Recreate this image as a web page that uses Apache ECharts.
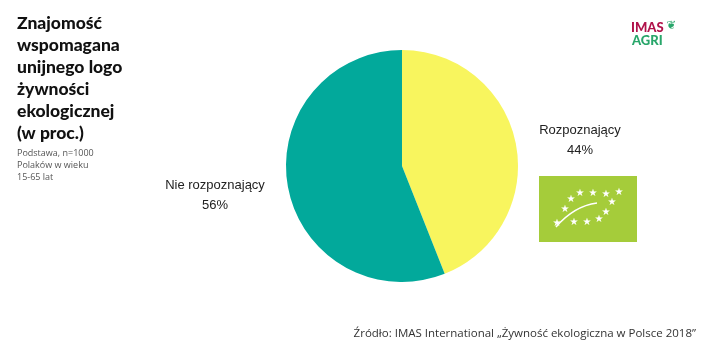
<!DOCTYPE html>
<html><head><meta charset="utf-8">
<script src="https://cdn.jsdelivr.net/npm/echarts@6/dist/echarts.min.js"></script>
<style>html,body{margin:0;padding:0;background:#fff}#c{width:702px;height:353px}</style>
</head><body><div id="c"></div>
<script>
const categories = ['Rozpoznający', 'Nie rozpoznający'];
const values = [44, 56];
const colors = ['#F8F55E', '#02A99B'];
const titleLines = ['Znajomość', 'wspomagana', 'unijnego logo', 'żywności', 'ekologicznej', '(w proc.)'];
const subLines = ['Podstawa, n=1000', 'Polaków w wieku', '15-65 lat'];
const sourceText = 'Źródło: IMAS International „Żywność ekologiczna w Polsce 2018”';
const labelPos = [[580, 140], [215, 195]];

const chart = echarts.init(document.getElementById('c'));
const stars = [];
const starPts = [[580,193],[593,193],[606,194],[619,192],[571,199],[612,202],[565,209],[606,212],[557,223],[574,222],[587,222],[599,219]];
starPts.forEach(p => stars.push({type:'text', x:p[0], y:p[1], style:{text:'★', fill:'#fff', font:'10px DejaVu Sans', align:'center', verticalAlign:'middle'}}));
chart.setOption({
  animation: false,
  graphic: [
    {type:'text', left:17, top:12, style:{text: titleLines.join('\n'), font:'900 17.5px Lato', lineHeight:22, fill:'#111'}},
    {type:'text', left:17, top:147, style:{text: subLines.join('\n'), font:'9px "Open Sans"', lineHeight:12, fill:'#555'}},
    {type:'text', right:6, top:328, style:{text: sourceText, font:'11.5px "Open Sans"', fill:'#333'}},
    {type:'text', left:631, top:21, style:{text:'IMAS', font:'900 13px Lato', fill:'#B0124A'}},
    {type:'text', left:632, top:34, style:{text:'AGRI', font:'900 13px Lato', fill:'#28A66A'}},
    {type:'text', left:666, top:20, style:{text:'❦', font:'12px DejaVu Sans', fill:'#28A66A'}},
    {type:'rect', shape:{x:539, y:176, width:98, height:66}, style:{fill:'#A5CC3A'}},
    {type:'bezierCurve', shape:{x1:556, y1:227, x2:597, y2:203, cpx1:568, cpy1:213, cpx2:582, cpy2:205}, style:{stroke:'#fff', lineWidth:1.5, fill:null}},
    ...stars
  ],
  series: [{
    type:'pie',
    center:[402,166],
    radius:116,
    startAngle:90,
    clockwise:true,
    data: categories.map((c,i)=>({name:c, value:values[i], itemStyle:{color:colors[i]}})),
    label:{show:true, formatter:'{b}\n{c}%', color:'#222', fontSize:13, fontFamily:'Liberation Sans', lineHeight:20, align:'center'},
    labelLine:{show:false},
    labelLayout: function(p){ const i=p.dataIndex; return {x:labelPos[i][0], y:labelPos[i][1], align:'center', verticalAlign:'middle'}; }
  }]
});
</script></body></html>
